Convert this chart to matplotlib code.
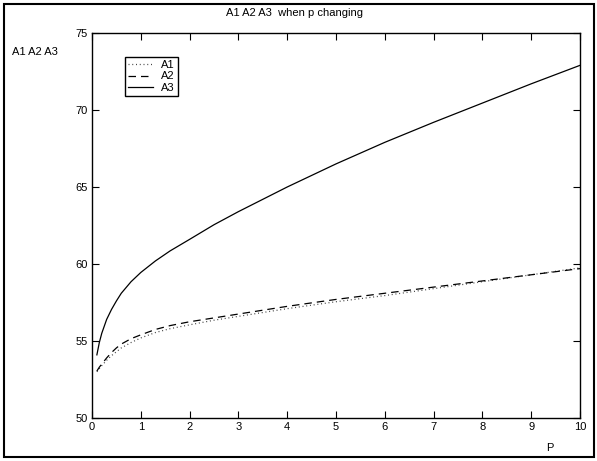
import matplotlib
matplotlib.use("Agg")
import matplotlib.pyplot as plt
from matplotlib.patches import Rectangle

plt.rcParams['font.family'] = ['Liberation Sans', 'DejaVu Sans']

p = [0.1, 0.15, 0.2, 0.3, 0.4, 0.5, 0.6, 0.8, 1.0, 1.3, 1.6, 2.0, 2.5, 3.0,
     3.5, 4.0, 5.0, 6.0, 7.0, 8.0, 9.0, 10.0]
A1 = [53.0, 53.2, 53.4, 53.75, 54.05, 54.3, 54.55, 54.9, 55.2, 55.55, 55.8,
      56.05, 56.35, 56.6, 56.85, 57.1, 57.55, 57.95, 58.4, 58.85, 59.3, 59.75]
A2 = [53.05, 53.3, 53.5, 53.9, 54.25, 54.55, 54.8, 55.15, 55.4, 55.75, 56.0,
      56.25, 56.5, 56.75, 57.0, 57.25, 57.7, 58.1, 58.5, 58.9, 59.3, 59.7]
A3 = [54.1, 54.9, 55.5, 56.4, 57.05, 57.6, 58.1, 58.85, 59.45, 60.2, 60.85,
      61.6, 62.55, 63.4, 64.2, 65.0, 66.5, 67.9, 69.2, 70.45, 71.7, 72.9]

xticks = list(range(0, 11))
yticks = [50, 55, 60, 65, 70, 75]

W, H = 597, 461
fig = plt.figure(figsize=(W / 100, H / 100), dpi=100)
ax = fig.add_axes([92 / W, 1 - 418 / H, (580 - 92) / W, (418 - 33) / H])

ax.plot(p, A1, color='#444444', linestyle=(0, (0.8, 2.2)), linewidth=0.9, label='A1')
ax.plot(p, A2, color='black', linestyle=(0, (6, 4)), linewidth=0.9, label='A2')
ax.plot(p, A3, color='black', linestyle='-', linewidth=0.9, label='A3')

ax.set_xlim(0, 10)
ax.set_ylim(50, 75)
ax.set_xticks(xticks)
ax.set_yticks(yticks)
ax.tick_params(direction='in', top=True, right=True, length=5, width=0.8,
               labelsize=8, pad=3)
for s in ax.spines.values():
    s.set_linewidth(1.0)

fig.text(295 / W, 1 - 13 / H, 'A1 A2 A3  when p changing', ha='center',
         va='center', fontsize=8)
fig.text(12 / W, 1 - 52 / H, 'A1 A2 A3', ha='left', va='center', fontsize=8)
fig.text(550 / W, 1 - 448 / H, 'P', ha='center', va='center', fontsize=8)

leg = ax.legend(loc='upper left', bbox_to_anchor=(125 / W, 1 - 57 / H),
                bbox_transform=fig.transFigure, fontsize=8, frameon=True,
                fancybox=False, edgecolor='black', framealpha=1,
                handlelength=2.2, handletextpad=0.7, borderpad=0.3,
                labelspacing=0.1, borderaxespad=0)
leg.get_frame().set_linewidth(1.0)

fig.patches.append(Rectangle((4 / W, 4 / H), (594 - 4) / W, (457 - 4) / H,
                             transform=fig.transFigure, fill=False,
                             edgecolor='black', linewidth=1.5))

fig.savefig('out.png', dpi=100)
